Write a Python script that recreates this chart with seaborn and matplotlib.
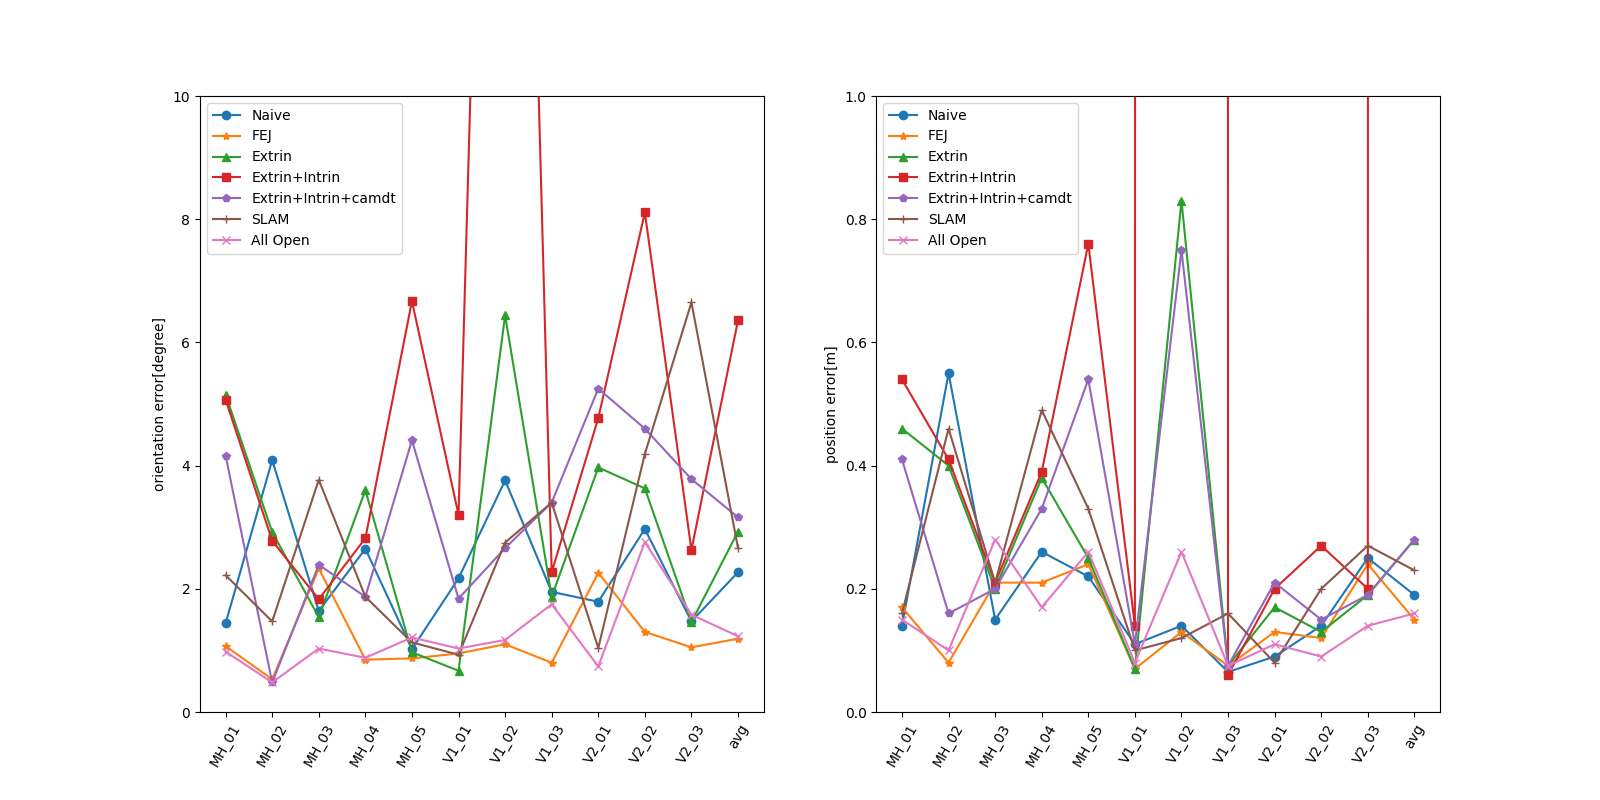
import matplotlib
matplotlib.use("Agg")
import matplotlib.pyplot as plt
import seaborn as sns

categories = ["MH_01", "MH_02", "MH_03", "MH_04", "MH_05", "V1_01", "V1_02",
              "V1_03", "V2_01", "V2_02", "V2_03", "avg"]

series_names = ["Naive", "FEJ", "Extrin", "Extrin+Intrin", "Extrin+Intrin+camdt",
                "SLAM", "All Open"]

# orientation error [degree]
ori_naive = [1.44, 4.09, 1.64, 2.65, 1.02, 2.17, 3.76, 1.95, 1.79, 2.97, 1.47, 2.27]
ori_fej = [1.07, 0.53, 2.33, 0.85, 0.87, 0.95, 1.10, 0.80, 2.26, 1.30, 1.05, 1.19]
ori_extrin = [5.15, 2.92, 1.54, 3.60, 0.97, 0.67, 6.44, 1.87, 3.97, 3.63, 1.46, 2.93]
ori_extrin_intrin = [5.07, 2.78, 1.83, 2.82, 6.67, 3.20, 30.0, 2.27, 4.77, 8.11, 2.63, 6.36]
ori_camdt = [4.16, 0.48, 2.39, 1.87, 4.41, 1.84, 2.66, 3.40, 5.25, 4.60, 3.78, 3.16]
ori_slam = [2.22, 1.47, 3.77, 1.87, 1.13, 0.93, 2.75, 3.40, 1.04, 4.19, 6.65, 2.66]
ori_allopen = [0.98, 0.48, 1.03, 0.88, 1.21, 1.03, 1.17, 1.75, 0.74, 2.76, 1.58, 1.23]

# position error [m]
pos_naive = [0.14, 0.55, 0.15, 0.26, 0.22, 0.11, 0.14, 0.065, 0.09, 0.14, 0.25, 0.19]
pos_fej = [0.17, 0.08, 0.21, 0.21, 0.24, 0.07, 0.13, 0.075, 0.13, 0.12, 0.24, 0.15]
pos_extrin = [0.46, 0.40, 0.20, 0.38, 0.25, 0.07, 0.83, 0.075, 0.17, 0.13, 0.19, 0.28]
pos_extrin_intrin = [0.54, 0.41, 0.21, 0.39, 0.76, 0.14, 300.0, 0.06, 0.20, 0.27, 0.20, 300.0]
pos_camdt = [0.41, 0.16, 0.20, 0.33, 0.54, 0.11, 0.75, 0.075, 0.21, 0.15, 0.19, 0.28]
pos_slam = [0.16, 0.46, 0.21, 0.49, 0.33, 0.10, 0.12, 0.16, 0.08, 0.20, 0.27, 0.23]
pos_allopen = [0.15, 0.10, 0.28, 0.17, 0.26, 0.08, 0.26, 0.075, 0.11, 0.09, 0.14, 0.16]

ori_series = [ori_naive, ori_fej, ori_extrin, ori_extrin_intrin, ori_camdt, ori_slam, ori_allopen]
pos_series = [pos_naive, pos_fej, pos_extrin, pos_extrin_intrin, pos_camdt, pos_slam, pos_allopen]

markers = ["o", "*", "^", "s", "p", "+", "x"]
colors = ["#1f77b4", "#ff7f0e", "#2ca02c", "#d62728", "#9467bd", "#8c564b", "#e377c2"]

fig, axes = plt.subplots(1, 2, figsize=(16, 8), dpi=100)

panels = [
    (axes[0], ori_series, "orientation error[degree]", (0, 10)),
    (axes[1], pos_series, "position error[m]", (0, 1.0)),
]

for ax, series, ylabel, ylim in panels:
    for name, vals, mk, col in zip(series_names, series, markers, colors):
        sns.lineplot(x=categories, y=vals, ax=ax, label=name, marker=mk, color=col,
                     markeredgecolor=col, markeredgewidth=1.0, markersize=6,
                     linewidth=1.5, sort=False, errorbar=None)
    ax.set_ylim(*ylim)
    ax.set_ylabel(ylabel)
    ax.set_xlabel("")
    ax.tick_params(axis="x", labelrotation=60)
    ax.legend(loc="upper left")

fig.savefig("out.png", dpi=100)
